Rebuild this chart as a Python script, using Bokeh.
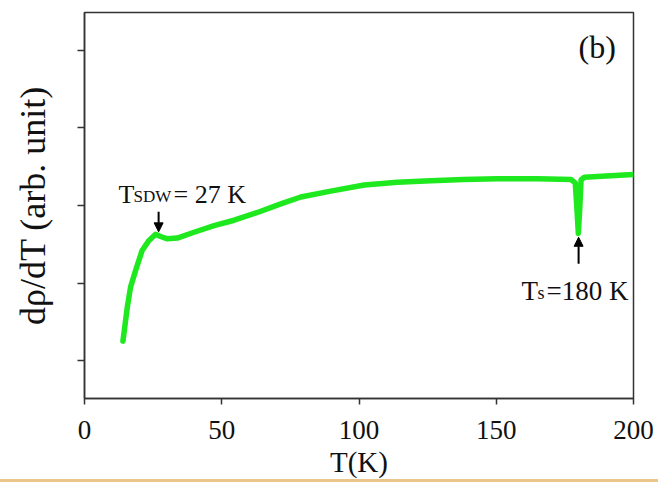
from bokeh.plotting import figure
from bokeh.models import Range1d, FixedTicker, Label, Arrow, NormalHead
from bokeh.embed import file_html
from bokeh.resources import INLINE

# ---- data ----
T = [14.0, 15.6, 16.8, 18.6, 21.0, 23.5, 25.9, 27.7, 30.2, 33.8, 39.9, 47.2,
     54.5, 63.0, 71.5, 78.8, 89.7, 101.9, 114.0, 126.2, 138.0, 150.5, 165.0,
     177.3, 178.8, 179.4, 179.9, 180.4, 180.9, 182.1, 190.0, 200.0]
dRdT = [1.25, 1.69, 1.95, 2.16, 2.42, 2.55, 2.63, 2.60, 2.57, 2.58, 2.655, 2.74,
        2.81, 2.91, 3.02, 3.11, 3.185, 3.265, 3.30, 3.32, 3.335, 3.345, 3.345,
        3.335, 3.29, 2.95, 2.64, 2.95, 3.33, 3.365, 3.38, 3.40]
x_ticks = [0, 50, 100, 150, 200]
y_ticks = [1, 2, 3, 4, 5]
T_SDW = 27
T_S = 180

FONT = "Liberation Serif"
AX = "#333333"
PX_PER_Y = 77.5

p = figure(width=658, height=482, output_backend="svg", toolbar_location=None,
           x_range=Range1d(0, 200), y_range=Range1d(0.51, 5.49),
           min_border_left=84, min_border_right=25, min_border_top=12,
           min_border_bottom=84, background_fill_color="white",
           border_fill_alpha=0)
# thin tan strip along the bottom edge of the picture
p.styles = {"background": "linear-gradient(to top, #ebc68a 0px, #ebc68a 3px, #ffffff 3px)"}
p.xgrid.visible = False
p.ygrid.visible = False
p.outline_line_color = AX
p.outline_line_width = 1.5

p.xaxis.ticker = FixedTicker(ticks=x_ticks)
p.xaxis.major_tick_out = 6
p.xaxis.major_tick_in = 0
p.xaxis.minor_tick_out = 0
p.xaxis.minor_tick_in = 0
p.xaxis.axis_line_color = AX
p.xaxis.axis_line_width = 1.5
p.xaxis.major_tick_line_color = AX
p.xaxis.major_tick_line_width = 1.5
p.xaxis.major_label_text_font = FONT
p.xaxis.major_label_text_font_size = "27px"
p.xaxis.major_label_text_color = "#111111"
p.xaxis.major_label_standoff = 16
p.xaxis.axis_label = "T(K)"
p.xaxis.axis_label_text_font = FONT
p.xaxis.axis_label_text_font_size = "29px"
p.xaxis.axis_label_text_font_style = "normal"
p.xaxis.axis_label_text_color = "#111111"
p.xaxis.axis_label_standoff = 4

p.yaxis.ticker = FixedTicker(ticks=y_ticks)
p.yaxis.major_tick_out = 7
p.yaxis.major_tick_in = 0
p.yaxis.minor_tick_out = 0
p.yaxis.minor_tick_in = 0
p.yaxis.axis_line_color = AX
p.yaxis.axis_line_width = 1.5
p.yaxis.major_tick_line_color = AX
p.yaxis.major_tick_line_width = 1.5
p.yaxis.major_label_overrides = {t: "" for t in y_ticks}
p.yaxis.major_label_standoff = 0
p.yaxis.axis_label = "dρ/dT (arb. unit)"
p.yaxis.axis_label_text_font = FONT
p.yaxis.axis_label_text_font_size = "36px"
p.yaxis.axis_label_text_font_style = "normal"
p.yaxis.axis_label_text_color = "#111111"
p.yaxis.axis_label_standoff = 25

p.line(T, dRdT, line_color="#1ee81e", line_width=5.5, line_join="round",
       line_cap="round")

# arrows
peak = max(v for t, v in zip(T, dRdT) if t < 35)
dip = min(v for t, v in zip(T, dRdT) if t > 150)
a1_end = peak + 0.03
a1_start = a1_end + 0.26
p.add_layout(Arrow(end=NormalHead(size=9, fill_color="black", line_color="black"),
                   x_start=T_SDW, y_start=a1_start, x_end=T_SDW, y_end=a1_end,
                   line_color="black", line_width=2))
a2_end = dip - 0.05
a2_start = a2_end - 0.34
p.add_layout(Arrow(end=NormalHead(size=9, fill_color="black", line_color="black"),
                   x_start=T_S, y_start=a2_start, x_end=T_S, y_end=a2_end,
                   line_color="black", line_width=2))

def lab(x, y, text, size, xoff=0, align="left"):
    p.add_layout(Label(x=x, y=y, text=text, x_offset=xoff, text_font=FONT,
                       text_font_size=size, text_color="#111111",
                       text_baseline="alphabetic", text_align=align))

# T_SDW label
y1 = a1_start + 17 / PX_PER_Y
lab(T_SDW, y1, "T", "26px", xoff=-40)
lab(T_SDW, y1 - 2 / PX_PER_Y, "SDW", "17px", xoff=-25)
lab(T_SDW, y1, "= 27 K", "26px", xoff=15)

# T_s label
y2 = a2_start - 27 / PX_PER_Y
lab(T_S, y2, "T", "27px", xoff=-57)
lab(T_S, y2 - 2 / PX_PER_Y, "s", "18px", xoff=-41)
lab(T_S, y2, "=180 K", "27px", xoff=-32)

# panel letter
lab(193.6, 5.04, "(b)", "32px", align="right")

open("out.html", "w").write(file_html(p, INLINE))
